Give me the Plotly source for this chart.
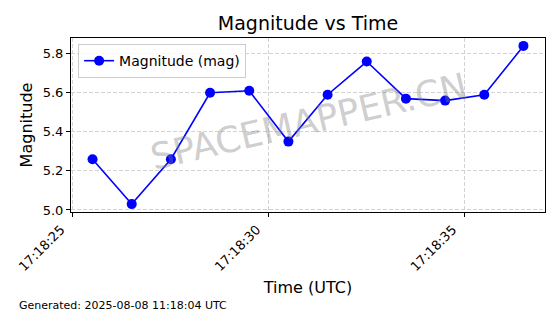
import plotly.graph_objects as go

times = ["2025-08-08 17:18:25.5", "2025-08-08 17:18:26.5", "2025-08-08 17:18:27.5",
         "2025-08-08 17:18:28.5", "2025-08-08 17:18:29.5", "2025-08-08 17:18:30.5",
         "2025-08-08 17:18:31.5", "2025-08-08 17:18:32.5", "2025-08-08 17:18:33.5",
         "2025-08-08 17:18:34.5", "2025-08-08 17:18:35.5", "2025-08-08 17:18:36.5"]
magnitude = [5.26, 5.03, 5.26, 5.60, 5.61, 5.35, 5.59, 5.76, 5.57, 5.56, 5.59, 5.84]
x_ticks = ["2025-08-08 17:18:25", "2025-08-08 17:18:30", "2025-08-08 17:18:35"]
x_tick_labels = ["17:18:25", "17:18:30", "17:18:35"]
y_ticks = [5.0, 5.2, 5.4, 5.6, 5.8]

FONT = "DejaVu Sans"
W, H = 560, 314
L, R, T, B = 71, 15, 38, 102
PW, PH = W - L - R, H - T - B

fig = go.Figure()
fig.add_trace(go.Scatter(
    x=times, y=magnitude, mode="lines+markers", name="Magnitude (mag)",
    line=dict(color="#0000ff", width=1.6),
    marker=dict(color="#0000ff", size=10),
))

axis_common = dict(
    showline=True, linecolor="black", linewidth=1, mirror=True,
    ticks="outside", ticklen=4, tickcolor="black",
    showgrid=True, gridcolor="#d3d3d3", griddash="4px,2px", gridwidth=0.8,
    zeroline=False,
    tickfont=dict(family=FONT, size=13, color="black"),
)

fig.update_layout(
    width=W, height=H,
    margin=dict(l=L, r=R, t=T, b=B),
    paper_bgcolor="white", plot_bgcolor="white",
    font=dict(family=FONT, color="black"),
    title=dict(text="Magnitude vs Time", x=0.55, xanchor="center",
               y=0.925, yanchor="middle", font=dict(family=FONT, size=19)),
    xaxis=dict(
        **axis_common,
        range=["2025-08-08 17:18:24.95", "2025-08-08 17:18:37.05"],
        tickmode="array", tickvals=x_ticks, ticktext=x_tick_labels,
        tickangle=-45, ticklabelshift=-12,
        title=dict(text="Time (UTC)", font=dict(family=FONT, size=16), standoff=8),
    ),
    yaxis=dict(
        **axis_common,
        range=[4.9895, 5.8805],
        tickmode="array", tickvals=y_ticks, ticktext=[f"{v:.1f}" for v in y_ticks],
        title=dict(text="Magnitude", font=dict(family=FONT, size=16), standoff=6),
    ),
    legend=dict(
        x=0.015, y=0.965, xanchor="left", yanchor="top",
        bgcolor="rgba(255,255,255,0.8)", bordercolor="#cccccc", borderwidth=1,
        font=dict(family=FONT, size=14),
    ),
    showlegend=True,
)

fig.add_annotation(
    text="SPACEMAPPER.CN", xref="paper", yref="paper", x=0.5, y=0.52,
    showarrow=False, textangle=-13,
    font=dict(family=FONT, size=36, color="rgba(128,128,128,0.4)"),
)
fig.add_annotation(
    text="Generated: 2025-08-08 11:18:04 UTC", xref="paper", yref="paper",
    x=(17 - L) / PW, y=(H - B - 305) / PH, xanchor="left", yanchor="middle",
    showarrow=False, font=dict(family=FONT, size=11, color="black"),
)

fig.write_html("out.html")
